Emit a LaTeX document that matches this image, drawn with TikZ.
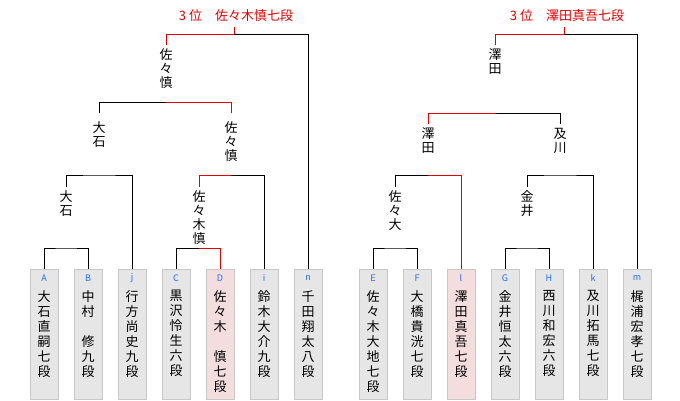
\documentclass[tikz,border=0pt]{standalone}
\usepackage{fontspec}
\setmainfont{Noto Sans CJK JP}

\definecolor{wonred}{RGB}{228,0,0}
\definecolor{boxgray}{RGB}{230,230,230}
\definecolor{boxedge}{RGB}{200,200,200}
\definecolor{boxpink}{RGB}{244,221,221}
\definecolor{tagblue}{RGB}{30,110,255}

\tikzset{
  player/.style={draw=boxedge, minimum width=28pt, minimum height=130pt, anchor=north, inner sep=0pt},
  tagtxt/.style={text=tagblue, font=\fontsize{9}{9}\selectfont, inner sep=0pt},
  nametxt/.style={anchor=north, align=center, inner sep=0pt, font=\fontsize{13}{15}\selectfont},
  pick/.style={anchor=north, align=center, inner sep=0pt, outer ysep=4pt, font=\fontsize{13}{14}\selectfont},
  third/.style={text=wonred, inner sep=0pt, outer ysep=5pt, font=\fontsize{13}{13}\selectfont},
  win/.style={draw=wonred},
}

\begin{document}
\begin{tikzpicture}[x=1pt, y=-1pt, line width=1pt]
  \useasboundingbox (0,0) rectangle (680,400);

  \pgfmathsetmacro{\boxtop}{269}

  % players
  \foreach \bx/\tag/\who/\bg in {
    44/A/{大\\石\\直\\嗣\\七\\段}/boxgray,
    88/B/{中\\村\\　\\修\\九\\段}/boxgray,
    132/j/{行\\方\\尚\\史\\九\\段}/boxgray,
    176/C/{黒\\沢\\怜\\生\\六\\段}/boxgray,
    220/D/{佐\\々\\木\\　\\慎\\七\\段}/boxpink,
    264/i/{鈴\\木\\大\\介\\九\\段}/boxgray,
    308/n/{千\\田\\翔\\太\\八\\段}/boxgray,
    373/E/{佐\\々\\木\\大\\地\\七\\段}/boxgray,
    417/F/{大\\橋\\貴\\洸\\七\\段}/boxgray,
    461/l/{澤\\田\\真\\吾\\七\\段}/boxpink,
    505/G/{金\\井\\恒\\太\\六\\段}/boxgray,
    549/H/{西\\川\\和\\宏\\六\\段}/boxgray,
    593/k/{及\\川\\拓\\馬\\七\\段}/boxgray,
    637/m/{梶\\浦\\宏\\孝\\七\\段}/boxgray}
  {
    \node[player, fill=\bg] (b\tag) at (\bx,\boxtop) {};
    \node[tagtxt] at (\bx,\boxtop+9) {\tag}; % seed letter
    \node[nametxt] at (\bx,\boxtop+21) {\who};
  }

  % left block
  \coordinate (m1) at (66,248);
  \coordinate (m2) at (199,248);
  \draw (bA.north) |- (m1) -| (bB.north);
  \draw (bC.north) |- (m2);
  \draw[win] (m2) -| (bD.north);
  \node[pick] (w1) at (66,187) {大\\石};
  \node[pick] (w2) at (199,187) {佐\\々\\木\\慎};

  \coordinate (m3) at (99,175);
  \coordinate (m4) at (231,175);
  \draw (w1.north) |- (m3) -| (bj.north);
  \draw[win] (w2.north) |- (m4);
  \draw (m4) -| (bi.north);
  \node[pick, outer ysep=9pt] (w3) at (99,113) {大\\石};
  \node[pick, outer ysep=9pt] (w4) at (231,113) {佐\\々\\慎};

  \coordinate (m5) at (166,102);
  \draw (w3.north) |- (m5);
  \draw[win] (m5) -| (w4.north);
  \node[pick] (w5) at (166,45) {佐\\々\\慎};

  \coordinate (m6) at (234,34);
  \draw[win] (w5.north) |- (m6);
  \draw (m6) -| (bn.north);
  \node[third] (t1) at (236,16) {3 位　佐々木慎七段};
  \draw[win] (m6) -- (m6 |- t1.south); % to the title

  % right block
  \coordinate (m7) at (395,248);
  \coordinate (m8) at (527,248);
  \draw (bE.north) |- (m7) -| (bF.north);
  \draw (bG.north) |- (m8) -| (bH.north);
  \node[pick] (w6) at (395,187) {佐\\々\\大};
  \node[pick] (w7) at (527,187) {金\\井};

  \coordinate (m9) at (428,175);
  \coordinate (m10) at (560,175);
  \draw (w6.north) |- (m9);
  \draw[win] (m9) -| (bl.north);
  \draw (w7.north) |- (m10) -| (bk.north);
  \node[pick] (w8) at (428,124) {澤\\田};
  \node[pick] (w9) at (560,124) {及\\川};

  \coordinate (m11) at (495,113);
  \draw[win] (w8.north) |- (m11);
  \draw (m11) -| (w9.north);
  \node[pick] (w10) at (495,45) {澤\\田};

  \coordinate (m12) at (564,34);
  \draw[win] (w10.north) |- (m12);
  \draw (m12) -| (bm.north);
  \node[third] (t2) at (567,16) {3 位　澤田真吾七段};
  \draw[win] (m12) -- (m12 |- t2.south); % to the title

\end{tikzpicture}
\end{document}
